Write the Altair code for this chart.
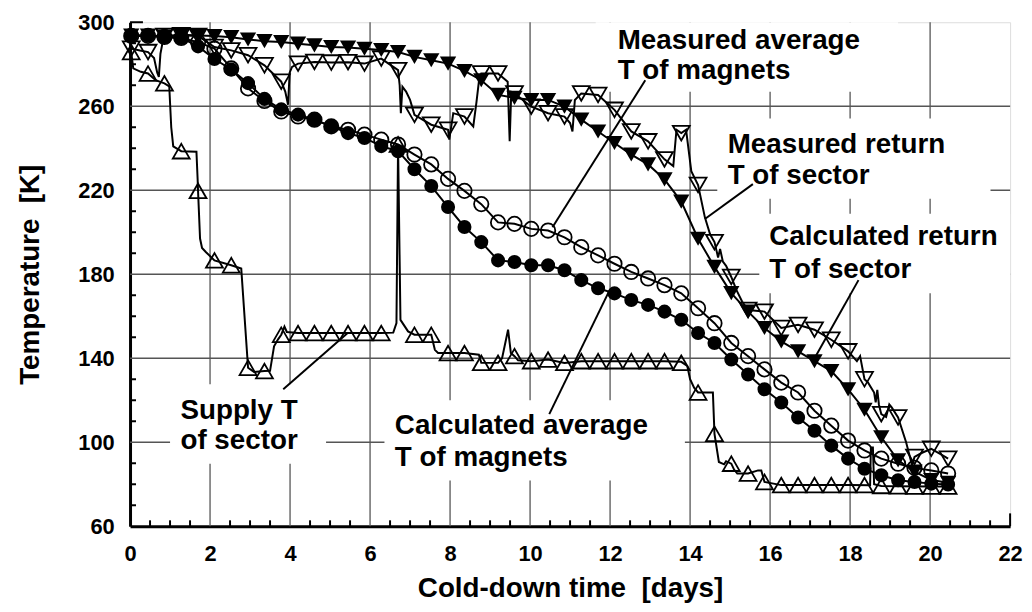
import altair as alt
import pandas as pd

# ---------------- data ----------------
t_mark = [0.03, 0.45, 0.86, 1.28, 1.7, 2.11, 2.53, 2.95, 3.36, 3.78, 4.2, 4.61, 5.03, 5.45,
          5.86, 6.28, 6.7, 7.11, 7.53, 7.95, 8.36, 8.78, 9.2, 9.61, 10.03, 10.45, 10.86,
          11.28, 11.7, 12.11, 12.53, 12.95, 13.36, 13.78, 14.2, 14.61, 15.03, 15.45, 15.86,
          16.28, 16.7, 17.11, 17.53, 17.95, 18.36, 18.78, 19.2, 19.61, 20.03, 20.45]

calc_avg = [293.7, 293.7, 293.0, 292.5, 288.5, 282.5, 277.5, 271.0, 263.5, 258.5, 256.0, 253.6,
            250.4, 247.2, 244.9, 241.0, 238.6, 230.0, 222.0, 212.0, 202.5, 195.3, 186.6, 185.8,
            184.3, 184.3, 181.9, 177.2, 173.3, 170.9, 167.7, 165.4, 162.2, 158.3, 152.0, 147.3,
            139.4, 132.3, 125.2, 118.9, 111.8, 105.5, 98.4, 92.2, 87.4, 84.3, 81.9, 81.1, 80.3, 79.9]

meas_avg = [293.5, 293.5, 293.0, 292.5, 290.5, 287.4, 278.0, 268.5, 262.5, 257.5, 255.1, 253.6,
            250.4, 248.8, 246.5, 244.1, 241.8, 237.0, 232.3, 225.4, 219.7, 213.4, 204.7, 204.0,
            201.6, 200.8, 197.6, 192.9, 189.0, 185.0, 181.1, 178.0, 174.8, 170.9, 163.8, 156.7,
            147.3, 141.0, 134.7, 128.4, 123.7, 115.0, 107.9, 100.8, 96.1, 92.2, 89.8, 87.8, 86.6, 85.1]

calc_ret = [293.7, 293.7, 293.2, 294.0, 293.7, 293.4, 292.9, 291.8, 291.0, 290.6, 289.8, 289.0,
            288.2, 288.0, 287.4, 286.8, 285.8, 283.5, 281.9, 280.3, 276.8, 272.4, 265.4, 264.0,
            263.0, 263.0, 259.8, 253.6, 248.0, 242.5, 237.0, 232.3, 225.2, 214.6, 196.9, 183.5,
            171.0, 162.2, 154.4, 148.0, 143.3, 138.6, 133.9, 125.2, 115.5, 102.4, 91.4, 86.0, 82.0, 80.7]

meas_ret = [287.4, 285.8, 293.5, 293.8, 293.5, 288.2, 286.6, 284.3, 279.5, 271.7, 280.3, 281.1,
            280.8, 281.0, 280.3, 282.7, 277.2, 255.9, 251.2, 248.8, 255.1, 275.6, 275.6, 266.1,
            259.8, 256.7, 255.1, 266.1, 265.4, 258.3, 248.0, 243.3, 234.7, 247.2, 222.5, 195.3,
            178.7, 163.0, 162.2, 154.4, 155.9, 153.6, 148.8, 143.3, 130.0, 113.4, 111.8, 93.0, 96.9, 92.2]

supply = [285.8, 275.6, 270.9, 238.6, 219.7, 186.6, 184.3, 135.5, 133.9, 151.2, 152.0, 152.0,
          152.0, 152.0, 152.0, 152.0, 241.8, 151.2, 151.2, 142.5, 142.5, 137.8, 137.8, 141.0,
          138.6, 139.4, 137.8, 138.6, 138.6, 138.6, 138.6, 138.6, 138.6, 137.8, 123.7, 104.0,
          89.8, 85.1, 81.1, 79.6, 79.6, 79.6, 79.6, 79.6, 79.6, 79.2, 79.0, 78.9, 78.9, 78.9]

# measured traces between markers (logged data)
meas_ret_line_t = [0.0, 0.03, 0.25, 0.45, 0.6, 0.68, 0.72, 0.76, 0.82, 0.86, 1.28, 1.7, 2.11, 2.53,
                   2.95, 3.36, 3.78, 3.88, 3.95, 3.99, 4.05, 4.2, 4.61, 5.03, 5.45, 5.86, 6.28, 6.7,
                   6.74, 6.77, 6.81, 6.9, 7.0, 7.11, 7.53, 7.95, 7.98, 8.08, 8.36, 8.58, 8.66, 8.72,
                   8.78, 9.2, 9.44, 9.49, 9.53, 9.61, 10.03, 10.45, 10.86, 11.0, 11.06, 11.12, 11.28,
                   11.7, 12.11, 12.53, 12.95, 13.36, 13.58, 13.66, 13.78, 13.9, 14.03, 14.2, 14.37,
                   14.5, 14.61, 14.7, 14.75, 14.82, 14.9, 15.03, 15.16, 15.3, 15.45, 15.86, 16.28,
                   16.7, 17.11, 17.53, 17.95, 18.17, 18.25, 18.36, 18.45, 18.6, 18.64, 18.68, 18.72,
                   18.78, 18.9, 18.98, 19.04, 19.2, 19.4, 19.55, 19.61, 19.8, 20.03, 20.25, 20.45]
meas_ret_line_T = [288.5, 287.4, 286.5, 285.8, 283.0, 276.0, 274.0, 285.0, 291.0, 293.5, 293.8, 293.5,
                   288.2, 286.6, 284.3, 279.5, 271.7, 267.0, 260.7, 276.0, 278.7, 280.3, 281.1, 280.8,
                   281.0, 280.3, 282.7, 277.2, 270.0, 256.7, 269.3, 267.0, 263.0, 255.9, 251.2, 248.8,
                   244.1, 256.7, 255.1, 250.4, 262.0, 271.7, 275.6, 275.6, 271.7, 243.3, 266.9, 266.1,
                   259.8, 256.7, 255.1, 252.0, 248.0, 263.0, 266.1, 265.4, 258.3, 248.0, 243.3, 234.7,
                   231.5, 248.8, 247.2, 248.8, 229.1, 222.5, 207.1, 199.0, 195.3, 188.0, 192.0, 186.0,
                   184.0, 178.7, 172.4, 167.0, 163.0, 162.2, 154.4, 155.9, 153.6, 148.8, 143.3, 138.6,
                   141.0, 130.0, 128.4, 123.7, 119.0, 125.0, 118.0, 113.4, 112.0, 118.0, 116.6, 111.8,
                   100.0, 89.0, 93.0, 95.0, 96.9, 94.5, 92.2]

supply_line_t = [0.0, 0.03, 0.08, 0.27, 0.45, 0.64, 0.86, 0.98, 1.03, 1.08, 1.28, 1.66, 1.69, 1.7,
                 1.75, 1.8, 1.9, 2.11, 2.53, 2.78, 2.95, 3.1, 3.36, 3.5, 3.6, 3.7, 3.78, 3.86, 3.92,
                 4.2, 4.61, 5.03, 5.45, 5.86, 6.28, 6.58, 6.66, 6.7, 6.76, 6.95, 7.11, 7.53, 7.62,
                 7.7, 7.95, 8.36, 8.72, 8.78, 9.2, 9.3, 9.45, 9.52, 9.61, 9.7, 10.03, 10.45, 10.86,
                 11.28, 11.7, 12.11, 12.53, 12.95, 13.36, 13.78, 13.93, 14.0, 14.1, 14.2, 14.57,
                 14.61, 14.72, 14.85, 14.9, 15.03, 15.1, 15.18, 15.45, 15.7, 15.78, 15.86, 16.28,
                 17.0, 18.0, 18.5, 18.52, 18.57, 18.6, 18.78, 19.2, 20.0, 20.45]
supply_line_T = [289.0, 285.8, 278.0, 276.4, 275.6, 272.4, 270.9, 269.5, 250.0, 240.9, 238.6, 238.3,
                 225.0, 219.7, 197.0, 192.5, 190.5, 186.6, 184.3, 182.7, 135.5, 133.5, 133.9, 134.0,
                 145.7, 149.0, 151.2, 155.1, 152.5, 152.0, 152.0, 152.0, 152.0, 152.0, 152.0, 152.2,
                 156.8, 241.8, 158.3, 152.8, 151.2, 151.2, 144.0, 142.5, 142.5, 142.5, 141.7, 137.8,
                 137.8, 140.0, 153.6, 142.5, 141.0, 139.0, 138.6, 139.4, 137.8, 138.6, 138.6, 138.6,
                 138.6, 138.6, 138.6, 138.3, 136.3, 130.0, 126.0, 123.7, 123.7, 104.0, 90.6, 89.5,
                 91.0, 89.8, 87.0, 85.1, 85.1, 86.6, 86.6, 81.1, 79.6, 79.6, 79.6, 79.5, 97.5, 97.5,
                 80.0, 79.2, 79.0, 78.9, 78.9]

# axes / grid
x_ticks = [0, 2, 4, 6, 8, 10, 12, 14, 16, 18, 20, 22]
y_ticks = [60, 100, 140, 180, 220, 260, 300]
grid_x = [2, 4, 6, 8, 10, 12, 14, 16, 18, 20]
grid_y = [100, 140, 180, 220, 260]
minor_x = [0.5, 1, 1.5, 2.5, 3, 3.5, 4.5, 5, 5.5, 6.5, 7, 7.5, 8.5, 9, 9.5, 10.5, 11, 11.5,
           12.5, 13, 13.5, 14.5, 15, 15.5, 16.5, 17, 17.5, 18.5, 19, 19.5, 20.5, 21, 21.5]
minor_y = [70, 80, 90, 110, 120, 130, 150, 160, 170, 190, 200, 210, 230, 240, 250, 270, 280, 290]

# annotations
label_text = ["Measured average", "T of magnets", "Measured return", "T of sector",
              "Calculated return", "T of sector", "Supply T", "of sector",
              "Calculated average", "T of magnets"]
label_x = [12.19, 12.19, 14.94, 14.94, 15.98, 15.98, 1.26, 1.26, 6.62, 6.62]
label_y = [287.4, 273.2, 237.8, 222.9, 193.7, 178.0, 111.0, 96.6, 104.0, 88.7]

box_x = [11.64, 14.68, 15.73, 1.0, 6.36]
box_x2 = [19.2, 21.51, 22.0, 4.9, 13.87]
box_y = [300.0, 254.2, 208.8, 127.6, 120.0]
box_y2 = [266.9, 215.9, 171.0, 89.8, 81.8]

lead_x = [12.88, 15.57, 18.21, 3.83, 10.48]
lead_y = [272.4, 222.9, 177.2, 125.2, 113.4]
lead_x2 = [10.56, 14.37, 17.14, 5.44, 11.97]
lead_y2 = [202.4, 206.3, 141.0, 152.0, 171.7]

# ---------------- chart ----------------
FONT = "Liberation Sans"
W, H = 887, 508

xs = alt.Scale(domain=[0, 22], nice=False, zero=False)
ys = alt.Scale(domain=[60, 300], nice=False, zero=False)

x_axis = alt.Axis(values=x_ticks, grid=False, ticks=False, tickSize=0, labelPadding=18,
                  labelFont=FONT, labelFontSize=22, labelFontWeight="bold", labelColor="black",
                  domainColor="black", domainWidth=3, title="Cold-down time \u00a0[days]",
                  titleFont=FONT, titleFontSize=28, titleFontWeight="bold", titleColor="black",
                  titlePadding=10, labelFlush=False)
y_axis = alt.Axis(values=y_ticks, grid=False, ticks=False, tickSize=0, labelPadding=16,
                  labelFont=FONT, labelFontSize=22, labelFontWeight="bold", labelColor="black",
                  domainColor="black", domainWidth=3, title="Temperature \u00a0[K]",
                  titleFont=FONT, titleFontSize=28, titleFontWeight="bold", titleColor="black",
                  titlePadding=34, labelFlush=False)

X = alt.X("x:Q", scale=xs, axis=x_axis)
Y = alt.Y("y:Q", scale=ys, axis=y_axis)

def df(x, y):
    d = pd.DataFrame({"x": x, "y": y})
    d["i"] = range(len(d))
    return d

gx = alt.Chart(pd.DataFrame({"x": grid_x})).mark_rule(color="#555555", strokeWidth=1.3).encode(x=X)
gy = alt.Chart(pd.DataFrame({"y": grid_y})).mark_rule(color="#555555", strokeWidth=1.3).encode(y=Y)

boxes = alt.Chart(pd.DataFrame({"x": box_x, "x2": box_x2, "y": box_y, "y2": box_y2})).mark_rect(
    color="white").encode(x=X, x2="x2:Q", y=Y, y2="y2:Q")

tx = alt.Chart(pd.DataFrame({"x": minor_x})).mark_rule(color="black", strokeWidth=2).encode(
    x=X, y=alt.value(H), y2=alt.value(H - 6))
ty = alt.Chart(pd.DataFrame({"y": minor_y})).mark_rule(color="black", strokeWidth=2).encode(
    y=Y, x=alt.value(0), x2=alt.value(6))
tx_end = alt.Chart(pd.DataFrame({"x": [22]})).mark_rule(color="black", strokeWidth=2).encode(
    x=X, y=alt.value(H), y2=alt.value(H - 13))
ty_end = alt.Chart(pd.DataFrame({"y": [300]})).mark_rule(color="black", strokeWidth=2).encode(
    y=Y, x=alt.value(0), x2=alt.value(13))

def line(d):
    return alt.Chart(d).mark_line(color="black", strokeWidth=2, clip=True).encode(
        x=X, y=Y, order="i:Q")

def pts(d, shape, filled, size):
    if filled:
        m = alt.Chart(d).mark_point(shape=shape, filled=True, size=size, color="black", opacity=1)
    else:
        m = alt.Chart(d).mark_point(shape=shape, filled=False, size=size, color="black",
                                    strokeWidth=1.8, opacity=1)
    return m.encode(x=X, y=Y)

d_ca = df(t_mark, calc_avg)
d_ma = df(t_mark, meas_avg)
d_cr = df(t_mark, calc_ret)
d_mr = df(t_mark, meas_ret)
d_su = df(t_mark, supply)
d_mr_l = df(meas_ret_line_t, meas_ret_line_T)
d_su_l = df(supply_line_t, supply_line_T)

layers = [
    gx, gy, boxes, tx, ty, tx_end, ty_end,
    line(d_su_l), pts(d_su, "triangle-up", False, 290),
    line(d_ma), pts(d_ma, "circle", False, 210),
    line(d_ca), pts(d_ca, "circle", True, 200),
    line(d_mr_l), pts(d_mr, "triangle-down", False, 290),
    line(d_cr), pts(d_cr, "triangle-down", True, 270),
]

leaders = alt.Chart(pd.DataFrame({"x": lead_x, "y": lead_y, "x2": lead_x2, "y2": lead_y2})).mark_rule(
    color="black", strokeWidth=2).encode(x=X, y=Y, x2="x2:Q", y2="y2:Q")
texts = alt.Chart(pd.DataFrame({"x": label_x, "y": label_y, "t": label_text})).mark_text(
    align="left", baseline="alphabetic", font=FONT, fontSize=28, fontWeight="bold", color="black"
).encode(x=X, y=Y, text="t:N")

chart = alt.layer(*layers, leaders, texts).properties(
    width=W, height=H, autosize="none",
    padding={"left": 123, "top": 12, "right": 14, "bottom": 76},
).configure_view(stroke=None).configure(background="white")

chart.save("out.html", embed_options={"renderer": "svg", "actions": False})
